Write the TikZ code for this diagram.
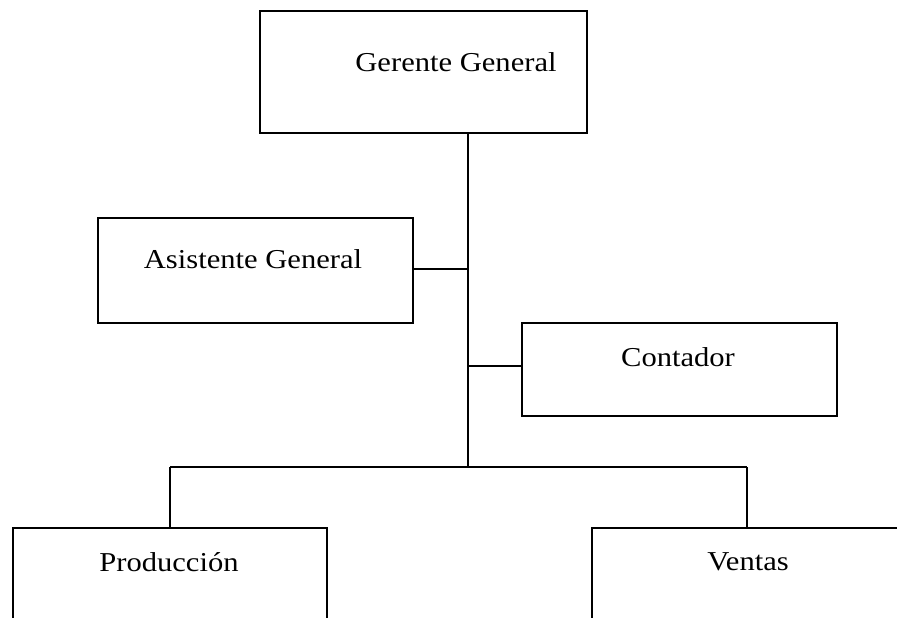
\documentclass[tikz,border=0pt]{standalone}
\usepackage{fontspec}
\setmainfont[FakeStretch=1.12]{Liberation Serif}
\begin{document}
\begin{tikzpicture}[x=1pt,y=-1pt,
  box/.style={draw=black, line width=1.6pt, rectangle, inner sep=0pt, anchor=north west},
  lbl/.style={font=\fontsize{27.3}{30}\selectfont, inner sep=0pt, anchor=center},
  link/.style={draw=black, line width=1.5pt}]
\useasboundingbox (0,0) rectangle (897,618);
\clip (0,0) rectangle (897,618);
\fill[white] (0,0) rectangle (897,618);

% boxes
\node[box, minimum width=327pt, minimum height=122pt] (gg) at (259,10) {};
\node[box, minimum width=315pt, minimum height=105pt] (ag) at (97,217) {};
\node[box, minimum width=315pt, minimum height=93pt] (ct) at (521,322) {};
\node[box, minimum width=314pt, minimum height=140pt] (pr) at (12,527) {};
\node[box, minimum width=340pt, minimum height=140pt] (ve) at (591,527) {};

% labels
\node[lbl] (ggt) at (456,62) {Gerente General};
\node[lbl] (agt) at (253,259) {Asistente General};
\node[lbl] (ctt) at (678,357) {Contador};
\node[lbl] (prt) at (169,562) {Producción};
\node[lbl] (vet) at (748,562) {Ventas};

% connector points
\coordinate (top) at (468,132);
\coordinate (jag) at (468,269);
\coordinate (jct) at (468,366);
\coordinate (mid) at (468,467);
\coordinate (lft) at (170,467);
\coordinate (rgt) at (747,467);

% connectors
\draw[link] (top) -- (mid);
\draw[link] (ag.east |- jag) -- (jag);
\draw[link] (jct) -- (ct.west |- jct);
\draw[link] (lft) -- (rgt);
\draw[link] (lft) -- (lft |- pr.north);
\draw[link] (rgt) -- (rgt |- ve.north);
\end{tikzpicture}
\end{document}
